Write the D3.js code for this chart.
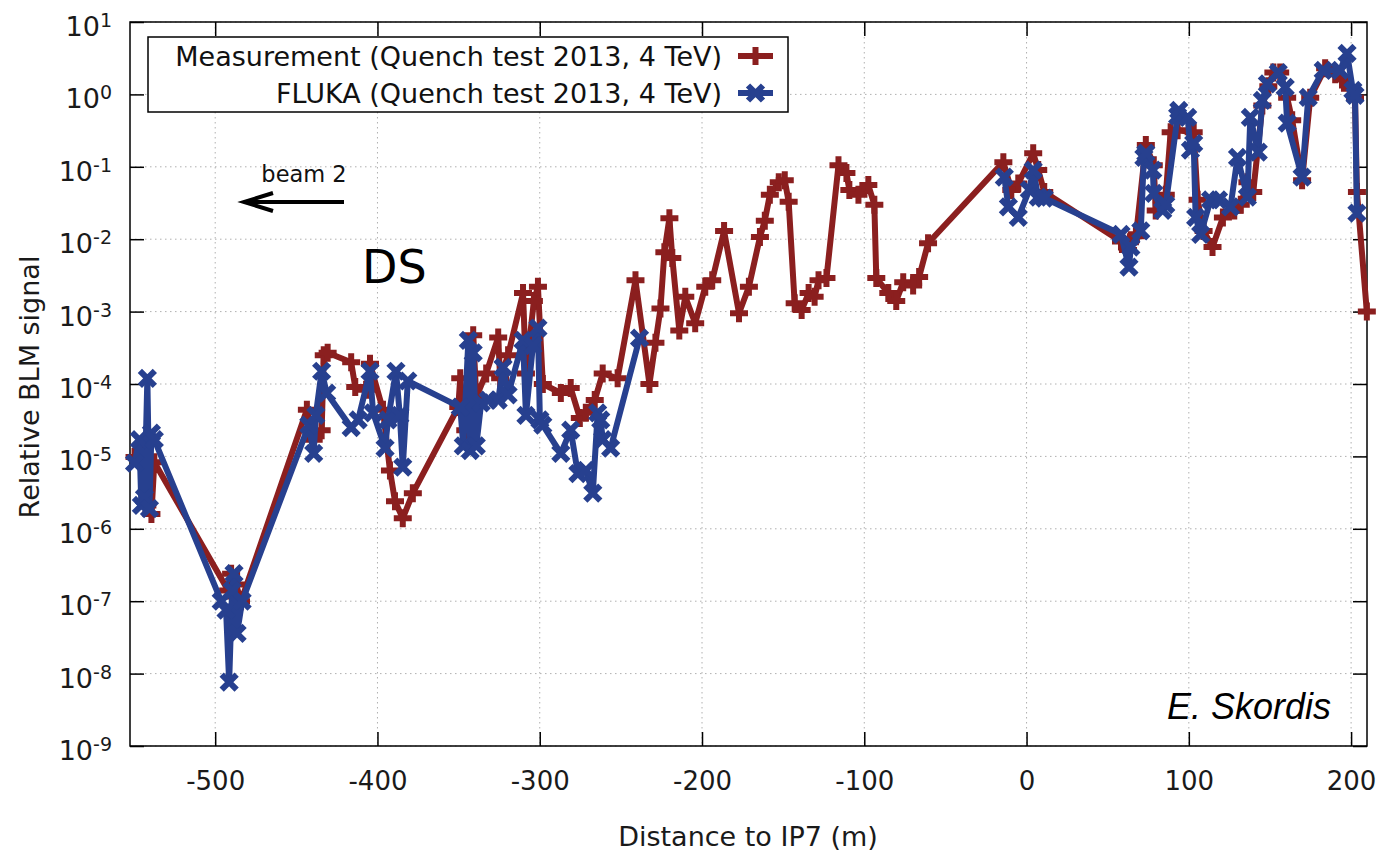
<!DOCTYPE html>
<html>
<head>
<meta charset="utf-8">
<script src="https://cdn.jsdelivr.net/npm/d3@7"></script>
<style>
  body { margin: 0; background: #fff; }
</style>
</head>
<body>
<div id="chart"></div>
<script>
// measured relative BLM signal vs distance to IP7 (m)
const measurement = [
  [-549.7, 9.8e-6], [-545.5, 1.2e-5], [-541.8, 2.1e-6], [-539.3, 1.6e-6], [-537.5, 8.3e-6],
  [-492.0, 1.4e-7], [-490.2, 2.4e-7], [-487.1, 1.7e-7], [-484.1, 1.0e-7],
  [-443.5, 4.4e-5], [-439.3, 1.7e-5], [-434.4, 2.3e-5], [-433.1, 2.5e-4], [-430.7, 2.7e-4],
  [-416.2, 2.0e-4], [-413.7, 9.1e-5], [-407.0, 8.3e-5], [-404.6, 1.9e-4], [-396.6, 4.4e-5],
  [-392.3, 6.4e-6], [-389.2, 2.4e-6], [-384.4, 1.4e-6], [-378.2, 3.1e-6],
  [-350.2, 4.8e-5], [-349.0, 1.2e-4], [-345.9, 2.3e-5], [-343.4, 1.7e-5], [-341.0, 4.7e-4],
  [-339.1, 6.6e-5], [-333.0, 1.4e-4], [-325.6, 4.4e-4], [-324.4, 1.2e-4], [-319.5, 2.5e-4],
  [-310.3, 1.8e-3], [-308.5, 1.4e-4], [-303.6, 1.4e-3], [-301.1, 2.2e-3], [-298.1, 1.0e-4],
  [-287.0, 7.5e-5], [-280.9, 8.8e-5], [-275.3, 3.4e-5], [-271.6, 4.0e-5], [-266.1, 6.0e-5],
  [-261.2, 1.4e-4], [-252.0, 1.2e-4], [-241.0, 2.7e-3], [-232.4, 1.0e-4], [-228.7, 3.7e-4],
  [-225.6, 1.1e-3], [-223.2, 6.6e-3], [-220.1, 1.95e-2], [-218.3, 5.5e-3], [-214.0, 5.5e-4],
  [-210.3, 1.6e-3], [-204.2, 6.9e-4], [-198.0, 2.2e-3], [-193.7, 2.7e-3], [-186.4, 1.3e-2],
  [-177.2, 9.5e-4], [-171.1, 2.2e-3], [-164.3, 1.07e-2], [-161.3, 1.8e-2], [-158.2, 4.1e-2],
  [-152.7, 6.1e-2], [-149.0, 6.5e-2], [-146.6, 3.3e-2], [-142.9, 1.3e-3], [-138.6, 1.05e-3],
  [-134.3, 1.8e-3], [-130.6, 1.6e-3], [-128.2, 2.7e-3], [-123.3, 2.9e-3], [-115.9, 0.105],
  [-111.0, 0.082], [-109.2, 0.048], [-103.6, 0.041], [-97.5, 0.056], [-93.8, 0.030],
  [-92.6, 2.9e-3], [-85.2, 1.8e-3], [-80.3, 1.4e-3], [-76.0, 2.55e-3], [-69.9, 2.3e-3],
  [-66.2, 3.0e-3], [-60.7, 8.8e-3],
  [-14.3, 0.116], [-9.4, 0.048], [-5.1, 0.059], [4.1, 0.154], [7.2, 0.09], [10.9, 0.045],
  [58.2, 0.0093], [62.5, 0.0071], [64.3, 0.0097], [67.4, 0.011], [73.5, 0.20], [78.4, 0.105],
  [79.6, 0.025], [85.8, 0.041], [88.8, 0.30], [93.1, 0.32], [103.0, 0.30], [105.4, 0.035],
  [109.1, 0.013], [114.6, 0.0078], [121.0, 0.020], [128.0, 0.025], [132.0, 0.030],
  [136.1, 0.061], [139.7, 0.045], [145.3, 0.70], [149.0, 1.3], [152.1, 2.0], [156.3, 2.0],
  [160.6, 0.9], [163.7, 0.44], [169.8, 0.065], [174.8, 0.9], [184.0, 2.3], [190.2, 1.9],
  [194.4, 1.6], [199.3, 1.2], [202.4, 0.9], [203.6, 0.045], [209.7, 0.001]
];

// FLUKA simulation (null = gap in the curve)
const fluka = [
  [-549.7, 8.1e-6], [-546.7, 1.7e-5], [-545.5, 2.1e-6], [-543.6, 2.7e-6], [-541.8, 1.2e-4],
  [-540.5, 1.9e-6], [-539.3, 2.1e-5], [-537.5, 1.7e-5],
  [-496.3, 1.0e-7], [-493.3, 7.5e-8], [-491.4, 7.6e-9], [-489.6, 1.4e-7], [-488.4, 2.4e-7],
  [-486.5, 3.6e-8], [-483.4, 1.0e-7],
  [-442.3, 2.7e-5], [-439.3, 1.1e-5], [-438.0, 3.7e-5], [-434.4, 1.5e-4], [-431.3, 7.5e-5],
  [-416.2, 2.5e-5], [-411.9, 3.2e-5], [-404.6, 1.5e-4], [-402.7, 4.0e-5], [-395.3, 1.3e-5],
  [-393.5, 3.2e-5], [-388.6, 1.5e-4], [-386.2, 3.7e-5], [-384.4, 7.1e-6], [-381.3, 1.1e-4],
  [-349.0, 4.8e-5], [-347.1, 1.4e-5], [-344.0, 4.0e-4], [-342.8, 1.2e-5], [-341.0, 2.7e-4],
  [-339.1, 1.4e-5], [-336.1, 5.5e-5], [-331.8, 6.0e-5], [-325.6, 6.0e-5], [-322.6, 1.7e-4],
  [-319.5, 7.1e-5], [-310.3, 4.0e-4], [-308.5, 3.7e-5], [-304.2, 3.4e-4], [-301.1, 5.9e-4],
  [-299.9, 3.2e-5], [-298.1, 2.7e-5], [-287.0, 1.1e-5], [-280.9, 2.3e-5], [-276.5, 5.8e-6],
  [-271.6, 6.4e-6], [-267.3, 3.1e-6], [-264.3, 4.0e-5], [-262.4, 3.2e-5], [-261.2, 1.7e-5],
  [-256.3, 1.3e-5], [-238.5, 4.3e-4],
  null,
  [-13.7, 0.072], [-11.2, 0.028], [-5.1, 0.020], [1.7, 0.048], [4.1, 0.09], [7.2, 0.038],
  [10.9, 0.037], [58.2, 0.0117], [63.1, 0.0041], [64.3, 0.0078], [70.4, 0.013], [72.3, 0.135],
  [73.5, 0.154], [77.8, 0.09], [78.4, 0.043], [83.9, 0.025], [85.8, 0.030], [93.1, 0.50],
  [93.8, 0.60], [99.3, 0.48], [101.0, 0.17], [103.0, 0.21], [104.2, 0.020], [107.3, 0.0117],
  [113.4, 0.035], [118.3, 0.035], [125.7, 0.028], [130.0, 0.135], [136.1, 0.038],
  [137.9, 0.48], [142.8, 0.16], [145.3, 0.83], [148.4, 1.4], [155.1, 2.0], [159.4, 1.25],
  [160.6, 0.40], [169.8, 0.072], [173.6, 0.91], [182.8, 2.15], [193.2, 2.15], [197.5, 3.7],
  [201.1, 1.14], [202.4, 0.97], [203.6, 0.023]
];

const xTicks = [-500, -400, -300, -200, -100, 0, 100, 200];
const yExponents = [1, 0, -1, -2, -3, -4, -5, -6, -7, -8, -9];
const xRange = [-552.5, 209.8];
const yRange = [1e-9, 10];
const seriesNames = [
  "Measurement (Quench test 2013, 4 TeV)",
  "FLUKA (Quench test 2013, 4 TeV)"
];

const W = 1387, H = 852;
const margin = { top: 22, right: 20, bottom: 106, left: 130 };
const width = W - margin.left - margin.right,
      height = H - margin.top - margin.bottom;

const red = "#8b1f1f", blue = "#27408f";
const font = "'DejaVu Sans', sans-serif";

const root = d3.select("#chart")
  .append("svg")
  .attr("width", W)
  .attr("height", H)
  .style("font-family", font);

const svg = root.append("g")
  .attr("transform", `translate(${margin.left},${margin.top})`);

const x = d3.scaleLinear().domain(xRange).range([0, width]);
const y = d3.scaleLog().domain(yRange).range([height, 0]);

// grid
svg.append("g")
  .selectAll("line")
  .data(xTicks)
  .enter().append("line")
  .attr("x1", d => x(d)).attr("x2", d => x(d))
  .attr("y1", 0).attr("y2", height)
  .attr("stroke", "#b0b0b0")
  .attr("stroke-width", 1)
  .attr("stroke-dasharray", "1.5,3.5");

svg.append("g")
  .selectAll("line")
  .data(yExponents)
  .enter().append("line")
  .attr("x1", 0).attr("x2", width)
  .attr("y1", d => y(Math.pow(10, d))).attr("y2", d => y(Math.pow(10, d)))
  .attr("stroke", "#b0b0b0")
  .attr("stroke-width", 1)
  .attr("stroke-dasharray", "1.5,3.5");

// axes (inward ticks, mirrored)
const tk = 14;
svg.append("g")
  .attr("transform", `translate(0,${height})`)
  .call(d3.axisBottom(x).tickValues(xTicks).tickSize(-tk).tickPadding(tk + 12).tickFormat(d3.format("d")))
  .call(g => g.select(".domain").remove())
  .call(g => g.selectAll("line").attr("stroke", "#000").attr("stroke-width", 1.5))
  .call(g => g.selectAll("text")
    .attr("font-family", font).attr("font-size", 26).attr("fill", "#1a1a1a")
    .text(d => d < 0 ? "-" + Math.abs(d) : d));

svg.append("g")
  .call(d3.axisTop(x).tickValues(xTicks).tickSize(-tk).tickFormat(""))
  .call(g => g.select(".domain").remove())
  .call(g => g.selectAll("line").attr("stroke", "#000").attr("stroke-width", 1.5));

const yTickVals = yExponents.map(e => Math.pow(10, e));
svg.append("g")
  .call(d3.axisLeft(y).tickValues(yTickVals).tickSize(-tk).tickFormat(""))
  .call(g => g.select(".domain").remove())
  .call(g => g.selectAll("line").attr("stroke", "#000").attr("stroke-width", 1.5));

svg.append("g")
  .attr("transform", `translate(${width},0)`)
  .call(d3.axisRight(y).tickValues(yTickVals).tickSize(-tk).tickFormat(""))
  .call(g => g.select(".domain").remove())
  .call(g => g.selectAll("line").attr("stroke", "#000").attr("stroke-width", 1.5));

// y tick labels 10^n
const yLab = svg.append("g").selectAll("text")
  .data(yExponents)
  .enter().append("text")
  .attr("x", -18)
  .attr("y", d => y(Math.pow(10, d)) + 14)
  .attr("text-anchor", "end")
  .attr("fill", "#1a1a1a")
  .attr("font-size", 27);
yLab.append("tspan").text("10");
yLab.append("tspan")
  .attr("dy", -9)
  .attr("font-size", 19)
  .text(d => d);

svg.append("rect")
  .attr("width", width)
  .attr("height", height)
  .attr("fill", "none")
  .attr("stroke", "#000")
  .attr("stroke-width", 1.5);

// series
const line = d3.line()
  .defined(d => d !== null)
  .x(d => x(d[0]))
  .y(d => y(d[1]));

const plus = "M-9,0H9M0,-9V9";
const cross = "M-7.5,-7.5L7.5,7.5M-7.5,7.5L7.5,-7.5";

function drawSeries(data, color, marker) {
  svg.append("path")
    .datum(data)
    .attr("fill", "none")
    .attr("stroke", color)
    .attr("stroke-width", 6)
    .attr("stroke-linejoin", "round")
    .attr("d", line);

  svg.append("g")
    .selectAll("path")
    .data(data.filter(d => d !== null))
    .enter().append("path")
    .attr("transform", d => `translate(${x(d[0])},${y(d[1])})`)
    .attr("d", marker)
    .attr("stroke", color)
    .attr("stroke-width", 6)
    .attr("fill", "none");
}

drawSeries(measurement, red, plus);
drawSeries(fluka, blue, cross);

// legend
const legend = root.append("g");
legend.append("rect")
  .attr("x", 148).attr("y", 37)
  .attr("width", 640).attr("height", 75)
  .attr("fill", "#fff")
  .attr("stroke", "#000")
  .attr("stroke-width", 1.5);

[[red, plus], [blue, cross]].forEach(([c, m], i) => {
  const cy = 56 + i * 37;
  legend.append("text")
    .attr("x", 722).attr("y", cy + 9.5)
    .attr("text-anchor", "end")
    .attr("font-size", 27)
    .attr("fill", "#111")
    .text(seriesNames[i]);
  legend.append("line")
    .attr("x1", 738).attr("x2", 773)
    .attr("y1", cy).attr("y2", cy)
    .attr("stroke", c).attr("stroke-width", 6);
  legend.append("path")
    .attr("transform", `translate(755.5,${cy})`)
    .attr("d", m)
    .attr("stroke", c).attr("stroke-width", 6).attr("fill", "none");
});

// axis titles
root.append("text")
  .attr("x", 748).attr("y", 846)
  .attr("text-anchor", "middle")
  .attr("font-size", 27)
  .attr("fill", "#1a1a1a")
  .text("Distance to IP7 (m)");

root.append("text")
  .attr("transform", "translate(39,387) rotate(-90)")
  .attr("text-anchor", "middle")
  .attr("font-size", 27)
  .attr("fill", "#1a1a1a")
  .text("Relative BLM signal");

// annotations
root.append("text")
  .attr("x", 304).attr("y", 182)
  .attr("text-anchor", "middle")
  .attr("font-size", 22.5)
  .attr("fill", "#111")
  .text("beam 2");

root.append("path")
  .attr("d", "M344,202H244M273,193L244,202L273,211")
  .attr("fill", "none")
  .attr("stroke", "#000")
  .attr("stroke-width", 4);

root.append("text")
  .attr("x", 362).attr("y", 283)
  .attr("font-size", 46)
  .attr("fill", "#000")
  .text("DS");

root.append("text")
  .attr("x", 1331).attr("y", 719)
  .attr("text-anchor", "end")
  .attr("font-family", "'Liberation Sans', Arial, sans-serif")
  .attr("font-style", "italic")
  .attr("font-size", 36)
  .attr("fill", "#000")
  .text("E. Skordis");
</script>
</body>
</html>
